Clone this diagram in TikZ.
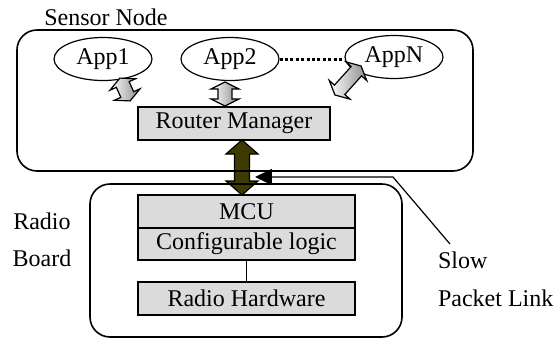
\documentclass[tikz,border=0pt]{standalone}
\usepackage{fontspec}
\setmainfont{Liberation Serif}
\usetikzlibrary{shapes.geometric, arrows.meta, positioning}

\definecolor{busolive}{RGB}{62,58,0}

\tikzset{
  % #1 half length, #2 head half width, #3 shaft half width, #4 head length
  pics/fatarrow/.style n args={4}{code={%
    \path[pic actions] (-#1,0pt) -- (-#1+#4,#2) -- (-#1+#4,#3) -- (#1-#4,#3) -- (#1-#4,#2) -- (#1,0pt)
      -- (#1-#4,-#2) -- (#1-#4,-#3) -- (-#1+#4,-#3) -- (-#1+#4,-#2) -- cycle;
  }}
}

\begin{document}
\begin{tikzpicture}[x=0.5pt, y=-0.5pt, >={Triangle[length=8.5pt,width=8pt]},
  every node/.style={font=\fontsize{12pt}{14pt}\selectfont},
  app/.style={ellipse, draw, line width=0.6pt, minimum width=49pt, minimum height=21.5pt, inner sep=0pt},
  unit/.style={rectangle, draw, line width=0.8pt, fill=black!14, minimum height=16.5pt, inner sep=0pt, outer sep=0pt},
  hollowarrow/.style={draw, line width=0.6pt, left color=white, right color=black!45},
  busarrow/.style={draw, line width=0.6pt, fill=busolive}]
\useasboundingbox (0,0) rectangle (559,339);
% link between router manager and MCU
\pic[busarrow, rotate=90] (bus) at (242,167.5) {fatarrow={13.75pt}{8pt}{3.75pt}{7pt}};
% sensor node
\draw[rounded corners=10pt, line width=0.8pt] (17,30) rectangle (473,171);
\node (sensorlbl) at (106,17) {Sensor Node};
\node[app] (app1) at (103,59) {App1};
\node[app] (app2) at (230,59) {App2};
\node[app] (appn) at (394,57) {AppN};
\draw[line width=1.5pt, dash pattern=on 1.5pt off 1.2pt] (app2.east) -- (app2.east -| appn.west);
\node[unit, minimum width=96pt] (router) at (234,123.5) {Router Manager};
\pic[hollowarrow, rotate=-66] (link1) at (125,89.5) {fatarrow={6.25pt}{7pt}{3.5pt}{3.5pt}};
\pic[hollowarrow, rotate=90] (link2) at (225,94) {fatarrow={6pt}{7pt}{3.5pt}{3.5pt}};
\pic[hollowarrow, rotate=48] (linkn) at (348,80.5) {fatarrow={9.75pt}{7pt}{3.5pt}{3.5pt}};
% radio board
\draw[rounded corners=10pt, line width=0.8pt] (90,184) rectangle (402,337);
\node (radiolbl) at (42,221) {Radio};
\node (boardlbl) at (42,258) {Board};
\node[unit, minimum width=108.5pt] (mcu) at (246.5,211.5) {MCU};
\node[unit, minimum width=108.5pt, minimum height=16pt, below=0pt of mcu] (logic) {Configurable logic};
\node[unit, minimum width=108.5pt, below=11pt of logic] (hw) {Radio Hardware};
\draw[line width=0.6pt] (logic) -- (hw);
% slow packet link
\node[anchor=west] (slowlbl) at (431,260) {Slow};
\node[anchor=west] (packetlbl) at (431,298) {Packet Link};
\coordinate (linktip) at (255,177);
\coordinate (linkbend) at (393,177);
\coordinate (linkend) at (450,244);
\draw[->, line width=0.6pt] (linkend) -- (linkbend) -- (linktip);
\end{tikzpicture}
\end{document}
